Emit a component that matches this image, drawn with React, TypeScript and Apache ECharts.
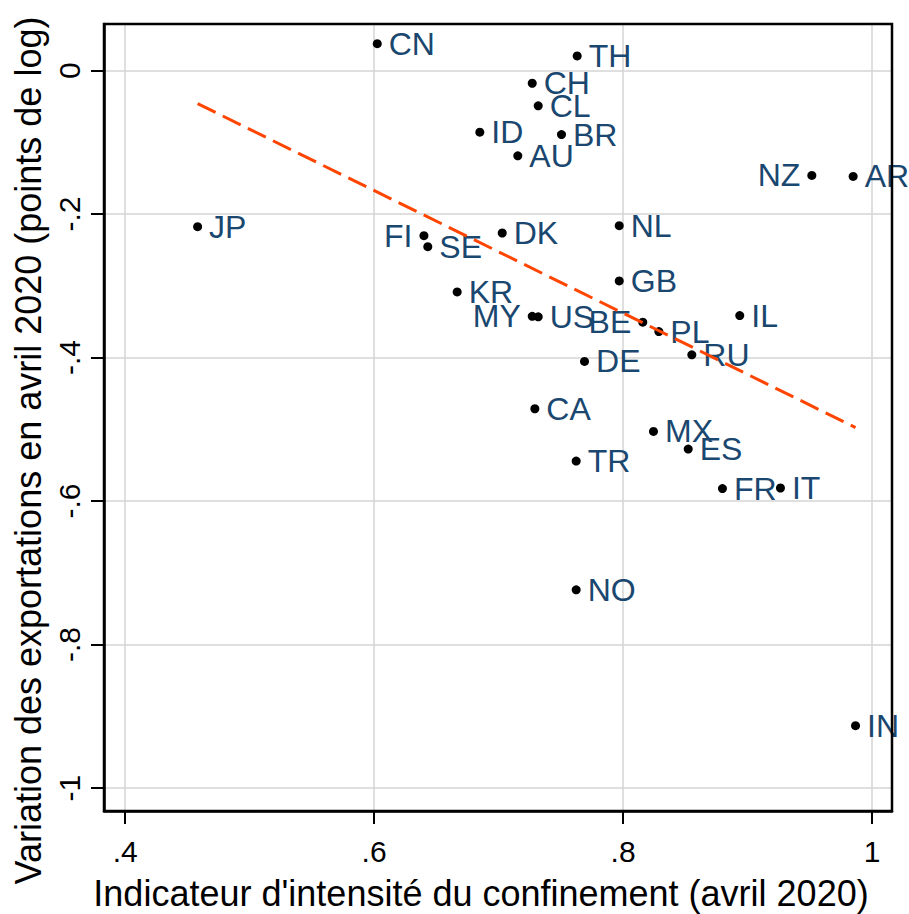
import React, { useEffect, useRef } from "react";
import * as echarts from "echarts";

const countries = ["CN", "TH", "CH", "CL", "ID", "BR", "AU", "NZ", "AR", "JP", "FI", "SE", "DK", "NL", "GB", "KR", "MY", "US", "BE", "PL", "IL", "RU", "DE", "CA", "MX", "ES", "TR", "FR", "IT", "NO", "IN"];
const lockdown = [0.6025, 0.7631, 0.727, 0.7318, 0.6849, 0.7505, 0.7154, 0.9516, 0.9848, 0.4582, 0.64, 0.6431, 0.7029, 0.7969, 0.7969, 0.6667, 0.727, 0.7318, 0.8158, 0.8287, 0.8937, 0.8552, 0.769, 0.7291, 0.8244, 0.8523, 0.7623, 0.8798, 0.9264, 0.7623, 0.9867];
const exportsChange = [0.0376, 0.0205, -0.0176, -0.0491, -0.0858, -0.0891, -0.1187, -0.1461, -0.1475, -0.2175, -0.23, -0.2454, -0.2263, -0.2161, -0.2931, -0.3084, -0.3424, -0.3432, -0.3507, -0.3637, -0.3414, -0.3961, -0.4054, -0.4713, -0.5029, -0.5275, -0.5442, -0.5826, -0.5818, -0.7237, -0.913];
const leftLabeled = ["FI", "MY", "NZ", "BE"];

const fitX = [0.4582, 0.9867];
const fitY = [-0.046, -0.4975];

const xTicks = [0.4, 0.6, 0.8, 1.0];
const xTickLabels = [".4", ".6", ".8", "1"];
const yTicks = [-1, -0.8, -0.6, -0.4, -0.2, 0];
const yTickLabels = ["-1", "-.8", "-.6", "-.4", "-.2", "0"];

const xTitle = "Indicateur d'intensité du confinement (avril 2020)";
const yTitle = "Variation des exportations en avril 2020 (points de log)";

const FONT = "'Liberation Sans', Arial, sans-serif";

const G_LEFT = 104;
const G_TOP = 24;
const G_RIGHT = 17;
const G_BOTTOM = 103;
const W = 909;
const H = 914;

function pick(ticks: number[], labels: string[], v: number) {
  let best = 0;
  for (let i = 1; i < ticks.length; i++) {
    if (Math.abs(ticks[i] - v) < Math.abs(ticks[best] - v)) best = i;
  }
  return Math.abs(ticks[best] - v) < 1e-6 ? labels[best] : "";
}

export default function App() {
  const ref = useRef<HTMLDivElement>(null);
  useEffect(() => {
    document.body.style.margin = "0";
    const chart = echarts.init(ref.current!, undefined, { renderer: "svg" });
    const gridLine = { show: true, lineStyle: { color: "#d4d4d4", width: 1.5 } };
    chart.setOption({
      animation: false,
      backgroundColor: "#fff",
      grid: { left: G_LEFT, right: G_RIGHT, top: G_TOP, bottom: G_BOTTOM, containLabel: false, outerBoundsMode: "none" },
      graphic: [
        {
          type: "rect",
          z: 100,
          silent: true,
          shape: { x: G_LEFT, y: G_TOP, width: W - G_LEFT - G_RIGHT, height: H - G_TOP - G_BOTTOM },
          style: { fill: "none", stroke: "#000", lineWidth: 2.5 },
        },
      ],
      xAxis: {
        type: "value",
        min: 0.383,
        max: 1.016,
        name: xTitle,
        nameLocation: "middle",
        nameGap: 64,
        nameTextStyle: { fontSize: 36, color: "#000", fontFamily: FONT, padding: [0, 34, 0, 0] },
        axisLine: { show: true, onZero: false, lineStyle: { color: "#000", width: 2.5 } },
        axisTick: { show: true, length: 13, lineStyle: { color: "#000", width: 2 }, customValues: xTicks },
        axisLabel: { customValues: xTicks, formatter: (v: number) => pick(xTicks, xTickLabels, v), fontSize: 30, margin: 25, color: "#000", fontFamily: FONT },
        splitLine: gridLine,
      },
      yAxis: {
        type: "value",
        min: -1.032,
        max: 0.065,
        name: yTitle,
        nameLocation: "middle",
        nameRotate: 90,
        nameGap: 56,
        nameTextStyle: { fontSize: 36, color: "#000", fontFamily: FONT, padding: [0, 66, 0, 0] },
        axisLine: { show: true, onZero: false, lineStyle: { color: "#000", width: 2.5 } },
        axisTick: { show: true, length: 13, lineStyle: { color: "#000", width: 2 }, customValues: yTicks },
        axisLabel: { customValues: yTicks, rotate: 90, formatter: (v: number) => pick(yTicks, yTickLabels, v), fontSize: 30, margin: 20, color: "#000", fontFamily: FONT },
        splitLine: gridLine,
      },
      series: [
        {
          type: "scatter",
          symbolSize: 9,
          itemStyle: { color: "#000", opacity: 1 },
          label: { show: true, formatter: "{b}", fontSize: 32, color: "#1a476f", opacity: 1, fontFamily: FONT, distance: 7 },
          labelLayout: { hideOverlap: false },
          data: countries.map((c, i) => ({
            name: c,
            value: [lockdown[i], exportsChange[i]],
            label: { position: leftLabeled.includes(c) ? "left" : "right" },
          })),
          z: 3,
        },
        {
          type: "line",
          showSymbol: false,
          lineStyle: { color: "#ff4500", width: 3, type: [20, 8] },
          data: fitX.map((x, i) => [x, fitY[i]]),
          z: 4,
        },
      ],
    });
    return () => chart.dispose();
  }, []);
  return <div ref={ref} style={{ width: W, height: H }} />;
}
